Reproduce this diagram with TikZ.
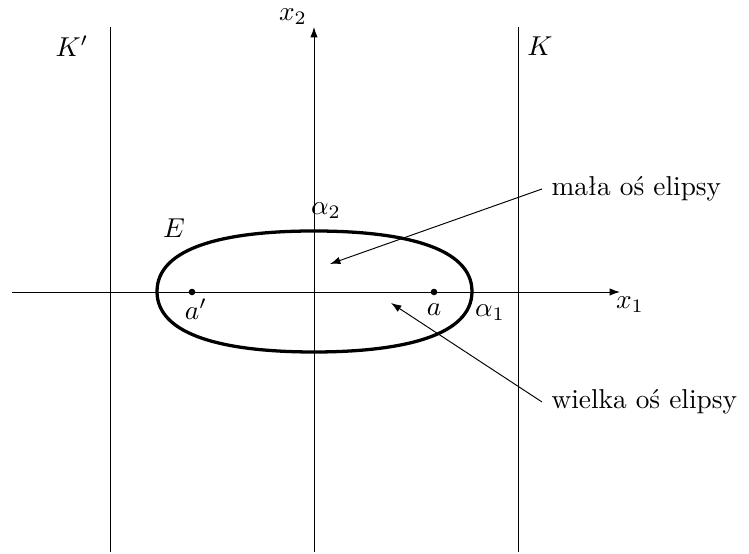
\documentclass[tikz,border=0pt]{standalone}
\usetikzlibrary{arrows.meta}
\begin{document}
\begin{tikzpicture}[x=0.366pt,y=-0.366pt,
  thinline/.style={line width=0.35pt},
  axisarrow/.style={thinline,-{Latex[length=3.8pt,width=2.7pt]}},
  pointer/.style={thinline,-{Latex[length=3.8pt,width=2.7pt]}},
  curve/.style={line width=1.2pt},
  dot/.style={circle,fill,inner sep=0pt,minimum size=2.4pt},
  lbl/.style={inner sep=0pt},
  note/.style={inner sep=3.3pt, anchor=west}]
\useasboundingbox (0,0) rectangle (749,554);
% axes
\coordinate (xl) at (12,292);
\coordinate (xr) at (620,292);
\coordinate (yb) at (314,552);
\coordinate (yt) at (314,27);
\draw[axisarrow] (xl) -- (xr);
\draw[axisarrow] (yb) -- (yt);
% vertical lines K' and K
\coordinate (kpt) at (110,27);
\coordinate (kpb) at (110,552);
\coordinate (kt) at (518,27);
\coordinate (kb) at (518,552);
\draw[thinline] (kpt) -- (kpb);
\draw[thinline] (kt) -- (kb);
% ellipse E
\draw[curve] (157,291.5) .. controls (157,247) and (226,231) .. (314,231)
  .. controls (402,231) and (472,247) .. (472,291.5)
  .. controls (472,336) and (402,352) .. (314,352)
  .. controls (226,352) and (157,336) .. cycle;
% foci
\node[dot] (ap) at (192,292) {};
\node[dot] (a) at (434,292) {};
% labels
\node[lbl] (Kp) at (72,46) {$K'$};
\node[lbl] (K) at (540,46) {$K$};
\node[lbl] (x2) at (293,17) {$x_2$};
\node[lbl] (x1) at (630,305) {$x_1$};
\node[lbl] (E) at (174,228) {$E$};
\node[lbl] (al2) at (326,211) {$\alpha_2$};
\node[lbl] (apl) at (196,309) {$a'$};
\node[lbl] (al) at (434,310) {$a$};
\node[lbl] (al1) at (490,313) {$\alpha_1$};
% notes
\node[note] (mala) at (542,189) {mała oś elipsy};
\node[note] (wielka) at (542,402) {wielka oś elipsy};
\coordinate (tip1) at (330,264);
\coordinate (tip2) at (391,303);
\draw[pointer] (mala.west) -- (tip1);
\draw[pointer] (wielka.west) -- (tip2);
\end{tikzpicture}
\end{document}
